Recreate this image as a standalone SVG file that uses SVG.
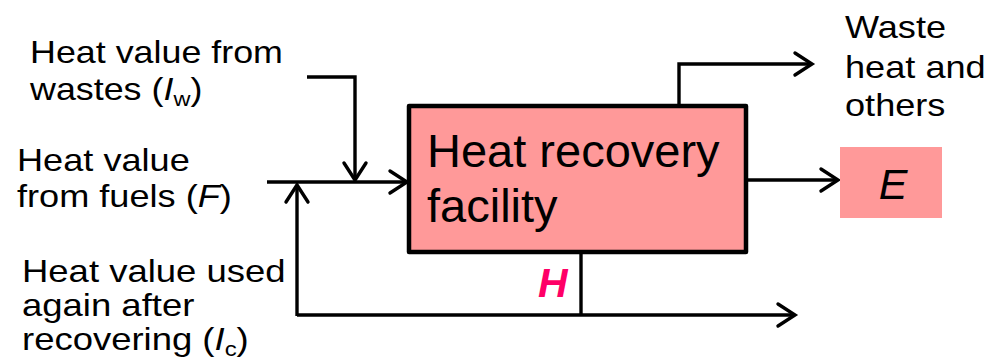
<svg xmlns="http://www.w3.org/2000/svg" width="995" height="364" viewBox="0 0 995 364">
<defs>
<marker id="arr" markerUnits="userSpaceOnUse" markerWidth="30" markerHeight="30" refX="20" refY="15" orient="auto" viewBox="0 0 30 30" overflow="visible">
<path d="M3,4 L20,15 L3,26" fill="none" stroke="#000" stroke-width="3.4" stroke-linecap="round" stroke-linejoin="miter"/>
</marker>
<style>
.t{font-family:"Liberation Sans",Arial,sans-serif;font-size:32px;fill:#000}
.c{fill:none;stroke:#000;stroke-width:3.4}
</style>
</defs>
<rect width="995" height="364" fill="#fff"/>
<g id="connectors">
<polyline class="c" points="307,77 355,77 355,180" marker-end="url(#arr)"/>
<line class="c" x1="267" y1="182" x2="407" y2="182" marker-end="url(#arr)"/>
<polyline class="c" points="581,252 581,315"/>
<line class="c" x1="297" y1="315" x2="795" y2="315" marker-end="url(#arr)"/>
<line class="c" x1="297" y1="316" x2="297" y2="185" marker-end="url(#arr)"/>
<polyline class="c" points="679,105 679,64 812,64" marker-end="url(#arr)"/>
<line class="c" x1="746" y1="180" x2="838" y2="180" marker-end="url(#arr)"/>
</g>
<g id="facility">
<rect x="409" y="106" width="337" height="146" fill="#FF9999" stroke="#000" stroke-width="4.5" stroke-linejoin="round"/>
<text x="427" y="167" font-family="Liberation Sans,Arial,sans-serif" font-size="47">Heat recovery</text>
<text x="427" y="222" font-family="Liberation Sans,Arial,sans-serif" font-size="47">facility</text>
</g>
<g id="E">
<rect x="840" y="147" width="102" height="71" fill="#FF9999"/>
<text x="893" y="199" text-anchor="middle" font-family="Liberation Sans,Arial,sans-serif" font-size="43" font-style="italic">E</text>
</g>
<g id="wastes">
<text class="t" transform="translate(30,63) scale(1.12,1)">Heat value from</text>
<text class="t" transform="translate(30,100) scale(1.12,1)">wastes (<tspan font-style="italic">I</tspan><tspan font-size="21" dy="6">w</tspan><tspan dy="-6">)</tspan></text>
</g>
<g id="fuels">
<text class="t" transform="translate(17,171) scale(1.13,1)">Heat value</text>
<text class="t" transform="translate(17,207) scale(1.13,1)">from fuels (<tspan font-style="italic">F</tspan>)</text>
</g>
<g id="recovered">
<text class="t" transform="translate(22,282) scale(1.14,1)">Heat value used</text>
<text class="t" transform="translate(22,316) scale(1.14,1)">again after</text>
<text class="t" transform="translate(22,350) scale(1.14,1)">recovering (<tspan font-style="italic">I</tspan><tspan font-size="21" dy="6">c</tspan><tspan dy="-6">)</tspan></text>
</g>
<g id="waste-heat">
<text class="t" transform="translate(845,38) scale(1.13,1)">Waste</text>
<text class="t" transform="translate(845,78) scale(1.13,1)">heat and</text>
<text class="t" transform="translate(845,116) scale(1.13,1)">others</text>
</g>
<g id="H">
<text x="538" y="297" font-family="Liberation Sans,Arial,sans-serif" font-size="41" font-weight="bold" font-style="italic" fill="#FF0066">H</text>
</g>
</svg>
